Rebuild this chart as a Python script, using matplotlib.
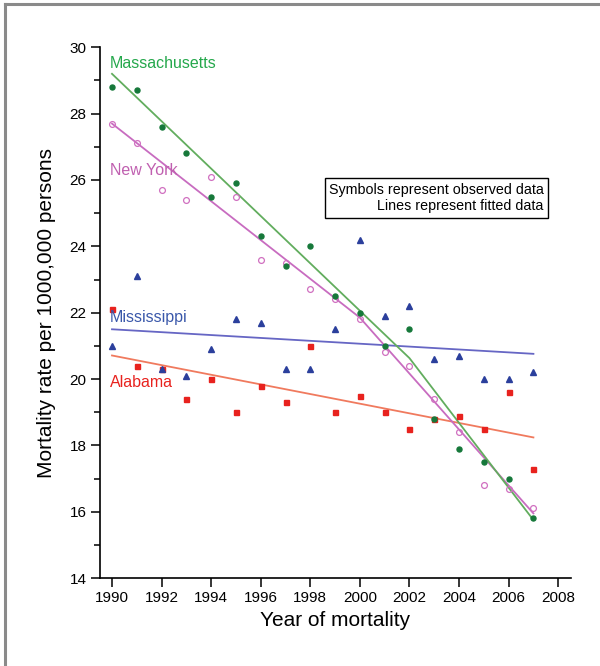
import numpy as np
import matplotlib
matplotlib.use("Agg")
import matplotlib.pyplot as plt
from matplotlib.lines import Line2D
from matplotlib.ticker import MultipleLocator

plt.rcParams['font.family'] = ['Liberation Sans', 'DejaVu Sans']

years = np.arange(1990, 2008)

# observed data
mass = [28.8, 28.7, 27.6, 26.8, 25.5, 25.9, 24.3, 23.4, 24.0, 22.5, 22.0, 21.0, 21.5, 18.8, 17.9, 17.5, 17.0, 15.8]
ny = [27.7, 27.1, 25.7, 25.4, 26.1, 25.5, 23.6, 23.5, 22.7, 22.4, 21.8, 20.8, 20.4, 19.4, 18.4, 16.8, 16.7, 16.1]
miss = [21.0, 23.1, 20.3, 20.1, 20.9, 21.8, 21.7, 20.3, 20.3, 21.5, 24.2, 21.9, 22.2, 20.6, 20.7, 20.0, 20.0, 20.2]
ala = [22.1, 20.4, 20.3, 19.4, 20.0, 19.0, 19.8, 19.3, 21.0, 19.0, 19.5, 19.0, 18.5, 18.8, 18.9, 18.5, 19.6, 17.3]

# fitted data (joinpoints)
mass_fit_x = [1990, 2002, 2007]
mass_fit_y = [29.2, 20.63, 15.75]
ny_fit_x = [1990, 2000, 2007]
ny_fit_y = [27.7, 21.85, 15.95]
miss_fit_x = [1990, 2007]
miss_fit_y = [21.5, 20.76]
ala_fit_x = [1990, 2007]
ala_fit_y = [20.71, 18.24]

fig = plt.figure(figsize=(6, 6.66), dpi=100)
ax = fig.add_axes([0.166, 0.132, 0.785, 0.797])

ax.plot(ala_fit_x, ala_fit_y, color='#f07a5e', lw=1.3)
ax.plot(miss_fit_x, miss_fit_y, color='#6666c4', lw=1.3)
ax.plot(ny_fit_x, ny_fit_y, color='#c86cc0', lw=1.3)
ax.plot(mass_fit_x, mass_fit_y, color='#62ad5e', lw=1.3)

ax.plot(years, ala, 's', color='#e8221e', ms=3.6, ls='none')
ax.plot(years, miss, '^', color='#2b3f9c', ms=4.6, ls='none')
ax.plot(years, ny, 'o', mfc='none', mec='#d070c0', mew=0.9, ms=4.2, ls='none')
ax.plot(years, mass, 'o', color='#16783a', ms=3.6, ls='none')

ax.text(1989.92, 29.52, 'Massachusetts', color='#25a84c', fontsize=11.5, va='center')
ax.text(1989.92, 26.3, 'New York', color='#c060b0', fontsize=11.5, va='center')
ax.text(1989.92, 21.84, 'Mississippi', color='#3a58aa', fontsize=11.5, va='center')
ax.text(1989.92, 19.9, 'Alabama', color='#e8221e', fontsize=11.5, va='center')

ax.text(0.943, 0.716, 'Symbols represent observed data\nLines represent fitted data',
        transform=ax.transAxes, ha='right', va='center', multialignment='right',
        fontsize=10.3, linespacing=1.25,
        bbox=dict(boxstyle='square,pad=0.3', fc='white', ec='black', lw=1.0))

ax.set_xlim(1989.5, 2008.5)
ax.set_ylim(14, 30)
ax.xaxis.set_major_locator(MultipleLocator(2))
ax.yaxis.set_major_locator(MultipleLocator(2))
ax.yaxis.set_minor_locator(MultipleLocator(1))
ax.tick_params(which='major', length=6.5, width=1.1, labelsize=11, direction='out', pad=3)
ax.tick_params(axis='y', which='minor', length=4, width=1.1, direction='out')
ax.spines['top'].set_visible(False)
ax.spines['right'].set_visible(False)
ax.spines['left'].set_linewidth(1.2)
ax.spines['bottom'].set_linewidth(1.2)

ax.set_xlabel('Year of mortality', fontsize=15, labelpad=4)
ax.set_ylabel('Mortality rate per 1000,000 persons', fontsize=15, labelpad=10)

# gray frame at top and left of the figure
fig.add_artist(Line2D([0.008, 1.0], [0.994, 0.994], color='#8a8a8a', lw=2.2))
fig.add_artist(Line2D([0.008, 0.008], [0.0, 0.994], color='#8a8a8a', lw=2.2))

fig.savefig('out.png', dpi=100, facecolor='white')
